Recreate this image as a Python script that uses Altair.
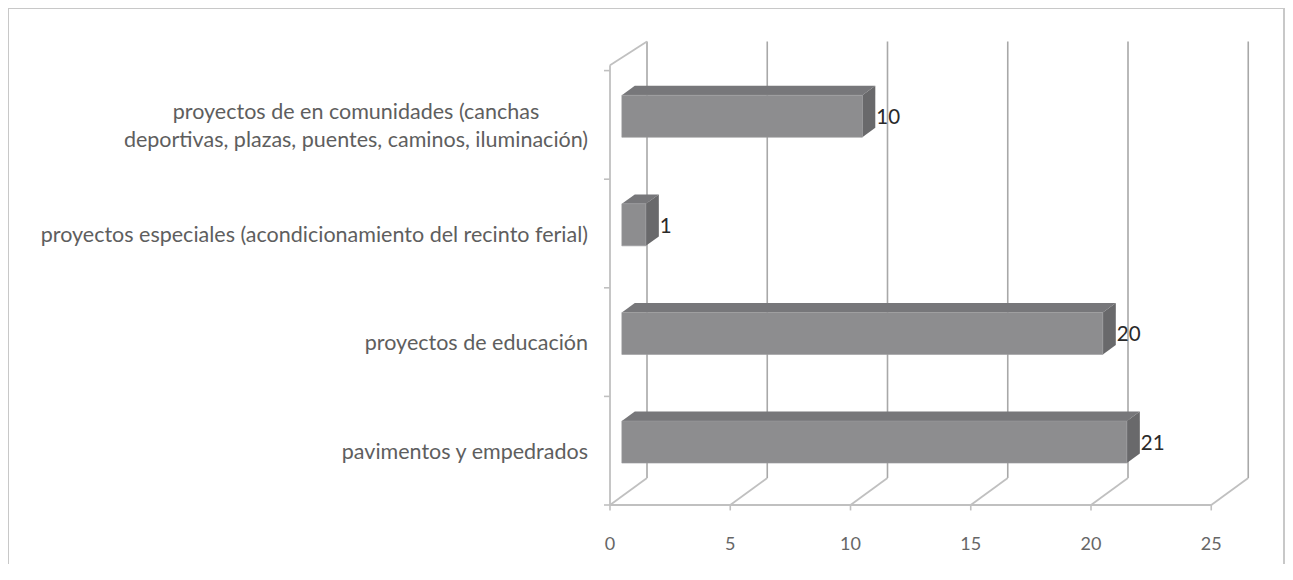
import altair as alt
import pandas as pd

# ---- data ----
categories = [
    "pavimentos y empedrados",
    "proyectos de educación",
    "proyectos especiales (acondicionamiento del recinto ferial)",
    "proyectos de en comunidades (canchas deportivas, plazas, puentes, caminos, iluminación)",
]
label_lines = [
    ["pavimentos y empedrados"],
    ["proyectos de educación"],
    ["proyectos especiales (acondicionamiento del recinto ferial)"],
    ["proyectos de en comunidades (canchas", "deportivas, plazas, puentes, caminos, iluminación)"],
]
values = [21, 20, 1, 10]
x_ticks = [0, 5, 10, 15, 20, 25]

# ---- geometry / scale configuration ----
W, H = 1277, 556
PX = 24.05          # pixels per value unit
PY = 108.6          # pixels per category slot
X0 = 602            # pixel of value 0 (front floor) inside the view
Y0 = 497            # pixel of the floor (front) inside the view
DX = 37 / PX        # full depth, in x units
DY = 27 / PY        # full depth, in y units
D1, D2 = 0.32, 0.67 # bar front / back depth fractions
BAR_H = 42 / PY
TOP_FRONT = 4.05
TOP_BACK = 4.02

xs = alt.Scale(domain=[-X0 / PX, (W - X0) / PX], nice=False, zero=False)
ys = alt.Scale(domain=[(Y0 - H) / PY, Y0 / PY], nice=False, zero=False)


def X(f="x"):
    return alt.X(f"{f}:Q", scale=xs, axis=None)


def Y(f="y"):
    return alt.Y(f"{f}:Q", scale=ys, axis=None)


n = len(categories)

# back wall gridlines
grid_df = pd.DataFrame({"x": [t + DX for t in x_ticks],
                        "y": [DY] * len(x_ticks),
                        "y2": [TOP_BACK + DY] * len(x_ticks)})
grid = alt.Chart(grid_df).mark_rule(color="#a8a8a8", strokeWidth=1.6).encode(
    x=X(), y=Y(), y2="y2:Q")

# floor diagonals
diag_df = pd.DataFrame({"x": x_ticks, "y": [0] * len(x_ticks),
                        "x2": [t + DX for t in x_ticks], "y2": [DY] * len(x_ticks)})
diag = alt.Chart(diag_df).mark_rule(color="#c0c0c0", strokeWidth=1.8).encode(
    x=X(), y=Y(), x2="x2:Q", y2="y2:Q")

# front floor line and its ticks
floor_df = pd.DataFrame({"x": [x_ticks[0]], "x2": [x_ticks[-1]], "y": [0]})
floor = alt.Chart(floor_df).mark_rule(color="#c0c0c0", strokeWidth=2).encode(
    x=X(), x2="x2:Q", y=Y())
fticks_df = pd.DataFrame({"x": x_ticks, "y": [0] * len(x_ticks), "y2": [-0.05] * len(x_ticks)})
fticks = alt.Chart(fticks_df).mark_rule(color="#c0c0c0", strokeWidth=1.6).encode(
    x=X(), y=Y(), y2="y2:Q")

# left wall
lwall_df = pd.DataFrame({"x": [0, 0], "x2": [0, DX], "y": [0, TOP_FRONT],
                         "y2": [TOP_FRONT, TOP_BACK + DY]})
lwall = alt.Chart(lwall_df).mark_rule(color="#c0c0c0", strokeWidth=1.8).encode(
    x=X(), x2="x2:Q", y=Y(), y2="y2:Q")
lticks_df = pd.DataFrame({"x": [-0.25] * (n + 1), "x2": [0] * (n + 1), "y": list(range(n + 1))})
lticks = alt.Chart(lticks_df).mark_rule(color="#c0c0c0", strokeWidth=1.6).encode(
    x=X(), x2="x2:Q", y=Y())

# bars: front face, top face, right face
front_rows, top_rows, right_rows, val_rows = [], [], [], []
for i, (c, v) in enumerate(zip(categories, values)):
    yb = i + 0.5 - BAR_H / 2
    yt = i + 0.5 + BAR_H / 2
    front_rows.append({"cat": c, "x": D1 * DX, "x2": v + D1 * DX,
                       "y": yb + D1 * DY, "y2": yt + D1 * DY})
    for d in (D1, D2):
        top_rows.append({"cat": c, "y": yt + d * DY, "x": d * DX, "x2": v + d * DX})
        right_rows.append({"cat": c, "x": v + d * DX, "y": yb + d * DY, "y2": yt + d * DY})
    val_rows.append({"cat": c, "x": v + D2 * DX, "y": i + 0.5 + D1 * DY, "label": str(v)})

front = alt.Chart(pd.DataFrame(front_rows)).mark_rect(
    color="#8d8d8f", stroke="#9a9a9c", strokeWidth=0.6).encode(
    x=X(), x2="x2:Q", y=Y(), y2="y2:Q")
top = alt.Chart(pd.DataFrame(top_rows)).mark_area(
    orient="horizontal", color="#77777a", opacity=1).encode(
    y=Y(), x=X(), x2="x2:Q", detail="cat:N")
right = alt.Chart(pd.DataFrame(right_rows)).mark_area(
    orient="vertical", color="#69696b", opacity=1).encode(
    x=X(), y=Y(), y2="y2:Q", detail="cat:N")

vals = alt.Chart(pd.DataFrame(val_rows)).mark_text(
    align="left", baseline="middle", font="Lato", fontSize=20.5, color="#2a2a2a", dx=1, dy=2).encode(
    x=X(), y=Y(), text="label:N")

# category labels
single = [{"cat": c, "x": 0, "y": i + 0.5, "label": l[0]}
          for i, (c, l) in enumerate(zip(categories, label_lines)) if len(l) == 1]
multi = [{"cat": c, "x": 0, "y": i + 0.5, "label": l}
         for i, (c, l) in enumerate(zip(categories, label_lines)) if len(l) > 1]
cat_single = alt.Chart(pd.DataFrame(single)).mark_text(
    align="right", baseline="middle", font="Lato", fontSize=21.5, color="#5e5e5e", dx=-22, dy=2).encode(
    x=X(), y=Y(), text="label:N")
cat_multi = alt.Chart(pd.DataFrame(multi)).mark_text(
    align="center", baseline="middle", font="Lato", fontSize=21.5, color="#5e5e5e",
    dx=-254, dy=-12, lineHeight=28).encode(
    x=X(), y=Y(), text="label")

# tick labels
tl_df = pd.DataFrame({"x": x_ticks, "y": [-0.368] * len(x_ticks), "label": [str(t) for t in x_ticks]})
tlabels = alt.Chart(tl_df).mark_text(
    align="center", baseline="middle", font="Lato", fontSize=18, color="#666666").encode(
    x=X(), y=Y(), text="label:N")

# outer frame (open at the bottom, as in the picture)
frame_df = pd.DataFrame({"k": [0]})
frame_l = alt.Chart(frame_df).mark_rule(color="#c8c8c8", strokeWidth=2).encode(
    x=alt.value(0), y=alt.value(0), y2=alt.value(H))
frame_r = alt.Chart(frame_df).mark_rule(color="#c8c8c8", strokeWidth=2).encode(
    x=alt.value(W - 1), y=alt.value(0), y2=alt.value(H))
frame_t = alt.Chart(frame_df).mark_rule(color="#c8c8c8", strokeWidth=2).encode(
    x=alt.value(0), x2=alt.value(W - 1), y=alt.value(0))

chart = alt.layer(
    grid, diag, floor, fticks, lwall, lticks,
    top, right, front, vals, cat_single, cat_multi, tlabels,
    frame_l, frame_r, frame_t,
).properties(
    width=W, height=H, autosize=alt.AutoSizeParams(type="none"), padding=0
).configure_view(stroke=None).configure(background="white")

chart.save("out.html", embed_options={"renderer": "svg", "actions": False})
